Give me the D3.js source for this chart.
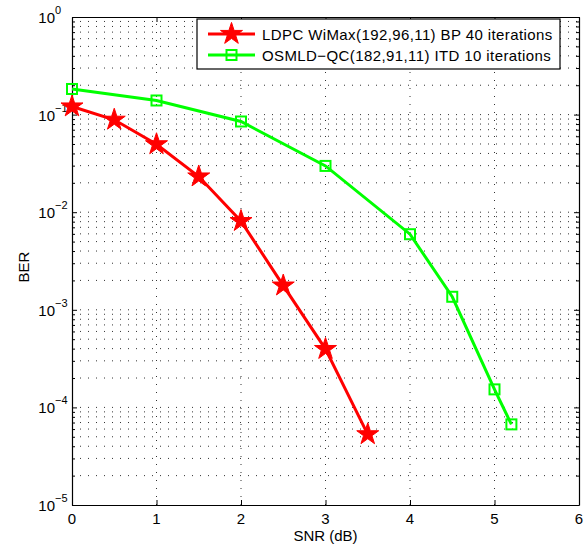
<!DOCTYPE html>
<html lang="en">
<head>
    <meta charset="UTF-8">
    <title>BER vs SNR</title>
    <script src="https://d3js.org/d3.v7.min.js"></script>
    <style>
        body { margin: 0; background: #fff; font-family: "Liberation Sans", Arial, sans-serif; }
        .grid line { stroke: #333; stroke-width: 1; stroke-dasharray: 1,7; }
        .tick-label { font-size: 15px; fill: #000; }
        .axis-label { font-size: 15px; fill: #000; }
        .legend-label { font-size: 15px; fill: #000; letter-spacing: 0.4px; }
    </style>
</head>
<body>
<svg width="585" height="548"></svg>
<script>
    // data
    const snrLdpc = [0, 0.5, 1, 1.5, 2, 2.5, 3, 3.5];
    const berLdpc = [0.121, 0.0885, 0.0496, 0.0232, 0.0081, 0.00177, 0.000396, 0.000053];
    const snrOsmld = [0, 1, 2, 3, 4, 4.5, 5, 5.2];
    const berOsmld = [0.183, 0.1395, 0.085, 0.0298, 0.00595, 0.00136, 0.000153, 0.000067];
    const xTicks = [0, 1, 2, 3, 4, 5, 6];
    const yExps = [0, -1, -2, -3, -4, -5];
    const legendNames = ["LDPC WiMax(192,96,11) BP 40 iterations", "OSMLD\u2212QC(182,91,11) ITD 10 iterations"];

    const margin = { top: 17, right: 6, bottom: 43, left: 72 };
    const width = 585, height = 548;
    const svg = d3.select("svg");

    const x = d3.scaleLinear().domain([0, 6]).range([margin.left, width - margin.right]);
    const y = d3.scaleLog().domain([1e-5, 1]).range([height - margin.bottom, margin.top]);

    const majorY = yExps.map(e => Math.pow(10, e));
    const minorY = [];
    yExps.slice(0, -1).forEach(e => {
        for (let m = 2; m <= 9; m++) minorY.push(m * Math.pow(10, e - 1));
    });

    // grid
    const grid = svg.append("g").attr("class", "grid");
    grid.selectAll(".gx").data(xTicks.slice(1, -1)).enter().append("line")
        .attr("x1", d => x(d)).attr("x2", d => x(d))
        .attr("y1", y.range()[0]).attr("y2", y.range()[1]);
    grid.selectAll(".gy").data(minorY.concat(majorY.slice(1, -1))).enter().append("line")
        .attr("x1", x.range()[0]).attr("x2", x.range()[1])
        .attr("y1", d => y(d)).attr("y2", d => y(d));

    // axes (ticks pointing inward)
    const x0 = x.range()[0], x1 = x.range()[1], y0 = y.range()[0], y1 = y.range()[1];
    svg.append("g").attr("transform", `translate(0,${y0})`)
        .call(d3.axisBottom(x).tickValues(xTicks).tickSizeInner(-5).tickSizeOuter(0).tickFormat(""));
    svg.append("g").attr("transform", `translate(0,${y1})`)
        .call(d3.axisTop(x).tickValues(xTicks).tickSizeInner(-5).tickSizeOuter(0).tickFormat(""));
    svg.append("g").attr("transform", `translate(${x0},0)`)
        .call(d3.axisLeft(y).tickValues(majorY).tickSizeInner(-5).tickSizeOuter(0).tickFormat(""));
    svg.append("g").attr("transform", `translate(${x0},0)`)
        .call(d3.axisLeft(y).tickValues(minorY).tickSizeInner(-3).tickSizeOuter(0).tickFormat(""))
        .select(".domain").remove();
    svg.append("g").attr("transform", `translate(${x1},0)`)
        .call(d3.axisRight(y).tickValues(majorY).tickSizeInner(-5).tickSizeOuter(0).tickFormat(""));
    svg.append("g").attr("transform", `translate(${x1},0)`)
        .call(d3.axisRight(y).tickValues(minorY).tickSizeInner(-3).tickSizeOuter(0).tickFormat(""))
        .select(".domain").remove();
    svg.selectAll(".domain").attr("stroke", "#000").attr("stroke-width", 1.2);
    svg.selectAll(".tick line").attr("stroke", "#000");

    // tick labels
    svg.selectAll(".xl").data(xTicks).enter().append("text")
        .attr("class", "tick-label")
        .attr("x", d => x(d)).attr("y", y0 + 19)
        .attr("text-anchor", "middle")
        .text(d => d);
    svg.selectAll(".yl").data(yExps).enter().append("text")
        .attr("class", "tick-label")
        .attr("x", x0 - 17).attr("y", d => y(Math.pow(10, d)) + 6)
        .attr("text-anchor", "end")
        .text("10");
    svg.selectAll(".ye").data(yExps).enter().append("text")
        .attr("x", x0 - 17).attr("y", d => y(Math.pow(10, d)) - 3)
        .style("font-size", "11px")
        .text(d => d === 0 ? "0" : "\u2212" + (-d));

    svg.append("text").attr("class", "axis-label")
        .attr("x", (x0 + x1) / 2).attr("y", 541)
        .attr("text-anchor", "middle").text("SNR (dB)");
    svg.append("text").attr("class", "axis-label")
        .attr("transform", `translate(29,${(y0 + y1) / 2 + 6}) rotate(-90)`)
        .attr("text-anchor", "middle").text("BER");

    // series
    const series = [
        { name: legendNames[0], xs: snrLdpc, ys: berLdpc, color: "#ff0000", marker: "star" },
        { name: legendNames[1], xs: snrOsmld, ys: berOsmld, color: "#00ff00", marker: "square" }
    ];
    const line = d3.line().x(d => x(d[0])).y(d => y(d[1]));
    const star = d3.symbol().type(d3.symbolStar).size(150);

    function drawMarker(g, type, color) {
        if (type === "star") {
            g.append("path").attr("d", star()).attr("fill", color).attr("stroke", color).attr("stroke-width", 1);
        } else {
            g.append("rect").attr("x", -5).attr("y", -5).attr("width", 10).attr("height", 10)
                .attr("fill", "none").attr("stroke", color).attr("stroke-width", 2);
        }
    }

    series.forEach(s => {
        const pts = s.xs.map((v, i) => [v, s.ys[i]]);
        svg.append("path").datum(pts)
            .attr("d", line).attr("fill", "none")
            .attr("stroke", s.color).attr("stroke-width", 3);
        pts.forEach(p => {
            const g = svg.append("g").attr("transform", `translate(${x(p[0])},${y(p[1])})`);
            drawMarker(g, s.marker, s.color);
        });
    });

    // legend
    const lg = svg.append("g");
    lg.append("rect").attr("x", 197).attr("y", 19).attr("width", 363).attr("height", 50)
        .attr("fill", "#fff").attr("stroke", "#000").attr("stroke-width", 1.2);
    series.forEach((s, i) => {
        const ly = 34 + i * 21;
        lg.append("line").attr("x1", 208).attr("x2", 255).attr("y1", ly).attr("y2", ly)
            .attr("stroke", s.color).attr("stroke-width", 3);
        drawMarker(lg.append("g").attr("transform", `translate(231.5,${ly})`), s.marker, s.color);
        lg.append("text").attr("class", "legend-label")
            .attr("x", 262).attr("y", ly + 5.5).text(s.name);
    });
</script>
</body>
</html>
